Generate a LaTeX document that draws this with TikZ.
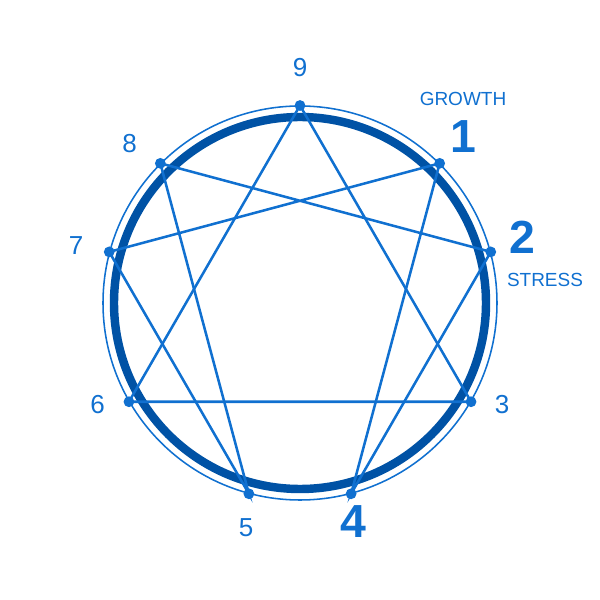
\documentclass[tikz,border=0pt]{standalone}
\usepackage{fontspec}
\setmainfont{Liberation Sans}
\usetikzlibrary{calc}
\definecolor{ringblue}{RGB}{0,82,165}
\definecolor{lineblue}{RGB}{16,112,208}
\begin{document}
\begin{tikzpicture}[x=0.025cm,y=0.025cm,
  ring/.style={draw=ringblue,line width=6pt},
  thinring/.style={draw=lineblue,line width=1.1pt},
  link/.style={draw=lineblue,line width=1.8pt},
  dot/.style={circle,fill=lineblue,inner sep=0pt,minimum size=0.27cm},
  numlabel/.style={text=lineblue,inner sep=0pt,font=\fontsize{18.5}{20}\selectfont},
  biglabel/.style={text=lineblue,inner sep=0pt,font=\fontsize{33}{36}\selectfont\bfseries},
  wordlabel/.style={text=lineblue,inner sep=0pt,font=\fontsize{13.5}{15}\selectfont}]
\useasboundingbox (0,0) rectangle (600,600);
\coordinate (c) at (300,297);
\draw[thinring] (c) circle (197);
\draw[ring] (c) circle (186);
\coordinate (p9) at ($(c)+(90:197.5)$);
\coordinate (p1) at ($(c)+(45:197.5)$);
\coordinate (p2) at ($(c)+(15:197.5)$);
\coordinate (p3) at ($(c)+(-30:197.5)$);
\coordinate (p4) at ($(c)+(-75:197.5)$);
\coordinate (p5) at ($(c)+(-105:197.5)$);
\coordinate (p6) at ($(c)+(-150:197.5)$);
\coordinate (p7) at ($(c)+(165:197.5)$);
\coordinate (p8) at ($(c)+(135:197.5)$);
% triangle
\draw[link] (p9) -- (p3) -- (p6) -- cycle;
% hexad
\draw[link] (p1) -- (p4) -- (p2) -- (p8) -- (p5) -- (p7) -- cycle;
\foreach \p in {p1,p2,p3,p4,p5,p6,p7,p8,p9} \node[dot] (d\p) at (\p) {};
% labels
\node[numlabel] (l9) at (300,532.5) {9};
\node[wordlabel] (lg) at (463,501) {GROWTH};
\node[biglabel] (l1) at (463,463) {1};
\node[biglabel] (l2) at (522.5,362.5) {2};
\node[wordlabel] (ls) at (545,320.5) {STRESS};
\node[numlabel] (l3) at (502,195) {3};
\node[biglabel] (l4) at (353,78.5) {4};
\node[numlabel] (l5) at (246,72) {5};
\node[numlabel] (l6) at (97.5,195) {6};
\node[numlabel] (l7) at (76,354) {7};
\node[numlabel] (l8) at (129.5,456) {8};
\end{tikzpicture}
\end{document}
